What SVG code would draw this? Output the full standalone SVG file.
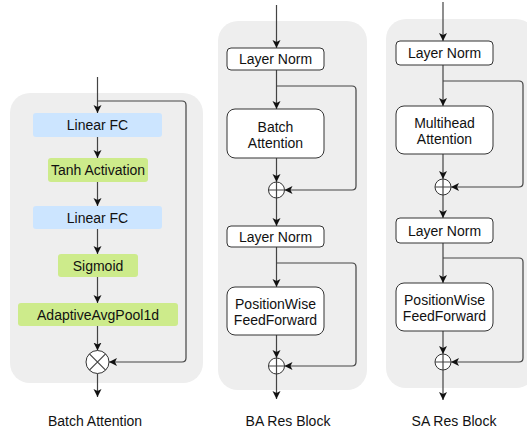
<svg xmlns="http://www.w3.org/2000/svg" width="527" height="433" viewBox="0 0 527 433">
<style>
.bg{fill:#eeeeee;stroke:none}
.blue{fill:#cce5ff;stroke:none}
.green{fill:#cdeb8b;stroke:none}
.box{fill:#ffffff;stroke:#333333;stroke-width:1}
.ln{fill:none;stroke:#444444;stroke-width:1.2}
.op{fill:#ffffff;stroke:#333333;stroke-width:1}
text{font-family:"Liberation Sans",Arial,sans-serif;font-size:14px;fill:#111111;text-anchor:middle}
</style>
<defs>
<marker id="arr" markerUnits="userSpaceOnUse" markerWidth="10" markerHeight="10" refX="8" refY="4" orient="auto">
<path d="M0,0 L8,4 L0,8 L2,4 z" fill="#111111"/>
</marker>
</defs>
<rect class="bg" x="10" y="93" width="193" height="290" rx="20"/>
<rect class="bg" x="218" y="21" width="149" height="369" rx="20"/>
<rect class="bg" x="386" y="19" width="150" height="369" rx="20"/>
<g id="connectors">
<path class="ln" d="M97.5,77 V113" marker-end="url(#arr)"/>
<path class="ln" d="M97.5,137 V158" marker-end="url(#arr)"/>
<path class="ln" d="M97.5,182 V206" marker-end="url(#arr)"/>
<path class="ln" d="M97.5,229 V254" marker-end="url(#arr)"/>
<path class="ln" d="M97.5,277 V303" marker-end="url(#arr)"/>
<path class="ln" d="M97.5,326 V350.5" marker-end="url(#arr)"/>
<path class="ln" d="M97.5,373.5 V397" marker-end="url(#arr)"/>
<path class="ln" d="M97.5,101 H182 Q186,101 186,105 V358 Q186,362 182,362 H109" marker-end="url(#arr)"/>
<path class="ln" d="M276.5,5 V48" marker-end="url(#arr)"/>
<path class="ln" d="M276.5,70 V109" marker-end="url(#arr)"/>
<path class="ln" d="M276.5,158 V182" marker-end="url(#arr)"/>
<path class="ln" d="M276.5,198 V226" marker-end="url(#arr)"/>
<path class="ln" d="M276.5,247 V287" marker-end="url(#arr)"/>
<path class="ln" d="M276.5,335 V358" marker-end="url(#arr)"/>
<path class="ln" d="M276.5,374 V399" marker-end="url(#arr)"/>
<path class="ln" d="M276.5,86 H352 Q356,86 356,90 V186 Q356,190 352,190 H284.5" marker-end="url(#arr)"/>
<path class="ln" d="M276.5,263 H352 Q356,263 356,267 V362 Q356,366 352,366 H284.5" marker-end="url(#arr)"/>
<path class="ln" d="M443,2 V41" marker-end="url(#arr)"/>
<path class="ln" d="M443,65 V106" marker-end="url(#arr)"/>
<path class="ln" d="M443,154 V179" marker-end="url(#arr)"/>
<path class="ln" d="M443,195 V218" marker-end="url(#arr)"/>
<path class="ln" d="M443,243 V283" marker-end="url(#arr)"/>
<path class="ln" d="M443,331 V354" marker-end="url(#arr)"/>
<path class="ln" d="M443,370 V400" marker-end="url(#arr)"/>
<path class="ln" d="M443,81 H519 Q523,81 523,85 V183 Q523,187 519,187 H451" marker-end="url(#arr)"/>
<path class="ln" d="M443,258 H519 Q523,258 523,262 V358 Q523,362 519,362 H451" marker-end="url(#arr)"/>
</g>
<g id="ba-linear1"><rect class="blue" x="33" y="113" width="129" height="24" rx="3"/><text x="97.5" y="130">Linear FC</text></g>
<g id="ba-tanh"><rect class="green" x="48" y="158" width="100" height="24" rx="3"/><text x="98" y="175">Tanh Activation</text></g>
<g id="ba-linear2"><rect class="blue" x="33" y="206" width="129" height="23" rx="3"/><text x="97.5" y="222.5">Linear FC</text></g>
<g id="ba-sigmoid"><rect class="green" x="58" y="254" width="80" height="23" rx="3"/><text x="98" y="270.5">Sigmoid</text></g>
<g id="ba-pool"><rect class="green" x="18" y="303" width="160" height="23" rx="3"/><text x="98" y="319.5">AdaptiveAvgPool1d</text></g>
<g id="ba-mul"><circle class="op" cx="97.5" cy="362" r="11.5"/><path class="ln" d="M89.4,353.9 L105.6,370.1 M105.6,353.9 L89.4,370.1" stroke="#333333"/></g>
<g id="bar-ln1"><rect class="box" x="227" y="48" width="97" height="22" rx="4"/><text x="275.5" y="64">Layer Norm</text></g>
<g id="bar-ba"><rect class="box" x="227" y="109" width="97" height="49" rx="8"/><text x="275.5" y="132">Batch</text><text x="275.5" y="148">Attention</text></g>
<g id="bar-add1"><circle class="op" cx="276.5" cy="190" r="8"/><path class="ln" d="M268.5,190 H284.5 M276.5,182 V198"/></g>
<g id="bar-ln2"><rect class="box" x="227" y="226" width="97" height="21" rx="4"/><text x="275.5" y="241.5">Layer Norm</text></g>
<g id="bar-ff"><rect class="box" x="227" y="287" width="97" height="48" rx="8"/><text x="275.5" y="309">PositionWise</text><text x="275.5" y="325">FeedForward</text></g>
<g id="bar-add2"><circle class="op" cx="276.5" cy="366" r="8"/><path class="ln" d="M268.5,366 H284.5 M276.5,358 V374"/></g>
<g id="sar-ln1"><rect class="box" x="396" y="41" width="97" height="24" rx="4"/><text x="444.5" y="58">Layer Norm</text></g>
<g id="sar-mha"><rect class="box" x="396" y="106" width="97" height="48" rx="8"/><text x="444.5" y="128">Multihead</text><text x="444.5" y="144">Attention</text></g>
<g id="sar-add1"><circle class="op" cx="443" cy="187" r="8"/><path class="ln" d="M435,187 H451 M443,179 V195"/></g>
<g id="sar-ln2"><rect class="box" x="396" y="218" width="97" height="25" rx="4"/><text x="444.5" y="235.5">Layer Norm</text></g>
<g id="sar-ff"><rect class="box" x="396" y="283" width="97" height="48" rx="8"/><text x="444.5" y="305">PositionWise</text><text x="444.5" y="321">FeedForward</text></g>
<g id="sar-add2"><circle class="op" cx="443" cy="362" r="8"/><path class="ln" d="M435,362 H451 M443,354 V370"/></g>
<g id="labels">
<text x="95" y="426">Batch Attention</text>
<text x="288" y="426">BA Res Block</text>
<text x="454" y="426">SA Res Block</text>
</g>
</svg>
